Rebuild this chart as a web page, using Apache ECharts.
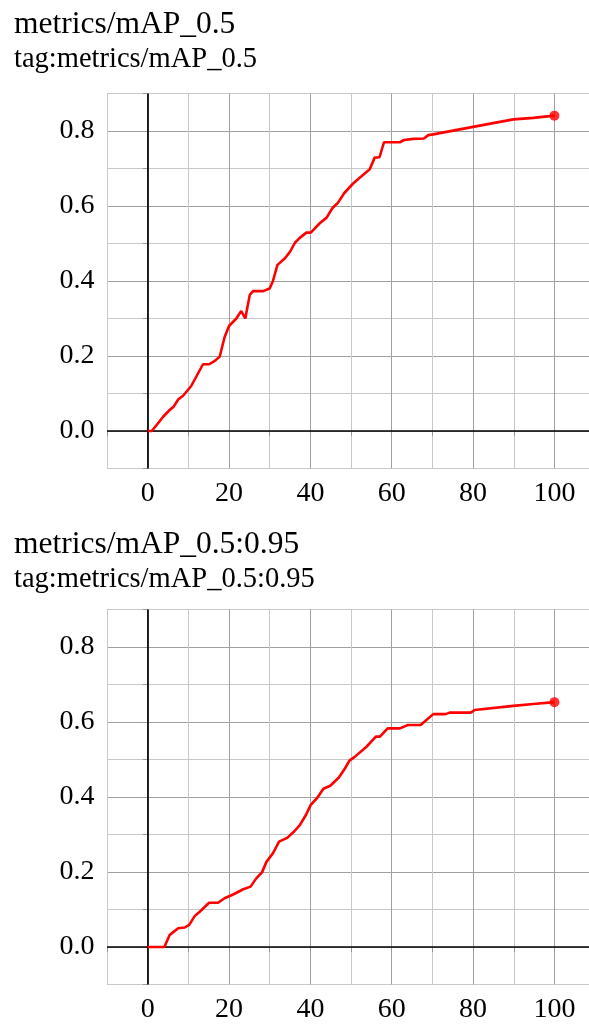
<!DOCTYPE html>
<html>
<head>
<meta charset="utf-8">
<script src="https://cdn.jsdelivr.net/npm/echarts@6/dist/echarts.min.js"></script>
<style>
html,body{margin:0;padding:0;background:#fff;}
#chart{width:589px;height:1025px;}
</style>
</head>
<body>
<div id="chart"></div>
<script>
// ---- data ----
const titles = ['metrics/mAP_0.5', 'metrics/mAP_0.5:0.95'];
const subtitles = ['tag:metrics/mAP_0.5', 'tag:metrics/mAP_0.5:0.95'];

const map50Epochs = [0,1,2.5,3.8,5.4,6.4,7.5,8.7,10.7,12.4,13.6,15.1,16.5,17.7,18.9,20,21.8,23,24,25.1,25.9,28.4,30,30.8,31.9,33.7,35,36.2,37.4,39,40.1,42.3,44,45.4,46.8,48.3,50.5,52.2,54.6,55.8,57,58.1,62,63,65.3,67.9,69,70.2,80,89.9,94.8,100];
const map50Values = [0,0,0.02,0.038,0.056,0.065,0.084,0.094,0.12,0.154,0.178,0.178,0.187,0.198,0.25,0.28,0.30,0.32,0.30,0.363,0.373,0.373,0.38,0.40,0.443,0.46,0.478,0.502,0.515,0.529,0.529,0.554,0.569,0.594,0.609,0.634,0.66,0.676,0.698,0.729,0.73,0.77,0.77,0.776,0.779,0.78,0.789,0.791,0.811,0.831,0.835,0.841];

const map5095Epochs = [0,4.1,5.4,6.2,7.5,9.1,10.2,11.6,12.8,15.1,17.3,18.9,21,23.5,25.3,26.7,28.1,29.2,30.8,32.3,34.3,36,37.4,38.9,40.1,41.7,43.2,44.9,47,48.5,49.6,50.9,53.8,56.1,57.1,59,62,64,67.1,70.2,73.2,74.3,79.4,80.4,89.9,94.8,100];
const map5095Values = [0,0,0.032,0.039,0.05,0.052,0.059,0.083,0.094,0.118,0.118,0.13,0.14,0.154,0.161,0.183,0.199,0.227,0.25,0.281,0.291,0.308,0.325,0.352,0.379,0.398,0.422,0.43,0.452,0.476,0.497,0.507,0.534,0.561,0.561,0.583,0.583,0.592,0.592,0.621,0.621,0.625,0.625,0.632,0.643,0.648,0.653];

const xTickLabels = [0,20,40,60,80,100];
const yTickLabels = [0.0,0.2,0.4,0.6,0.8];

// ---- layout ----
const FONT = 'Liberation Serif';
const gridTops = [93.5, 609.5];
const titleTops = [9, 529];
const subTops = [45.5, 565.5];
const GRID_H = 375;

function pairs(xs, ys){ return xs.map((x,i)=>[x, ys[i]]); }
const seriesData = [pairs(map50Epochs, map50Values), pairs(map5095Epochs, map5095Values)];

const title = [];
const grid = [], xAxis = [], yAxis = [], series = [];
for (let k = 0; k < 2; k++) {
  title.push({text: titles[k], left: 14, top: titleTops[k], padding: 0,
    textStyle: {fontFamily: FONT, fontSize: 31.5, fontWeight: 'normal', color: '#000'}});
  title.push({text: subtitles[k], left: 14, top: subTops[k], padding: 0,
    textStyle: {fontFamily: FONT, fontSize: 28.5, fontWeight: 'normal', color: '#000'}});
  grid.push({left: 107, right: 0, top: gridTops[k], height: GRID_H, containLabel: false});
  xAxis.push({type: 'value', gridIndex: k, min: -10, max: 108.5, interval: 10,
    axisLine: {show: false},
    axisTick: {show: true, length: 5, lineStyle: {color: '#999'}},
    axisLabel: {margin: 11, fontFamily: FONT, fontSize: 28, color: '#000', showMaxLabel: false,
      formatter: v => xTickLabels.includes(Math.round(v)) && Math.abs(v - Math.round(v)) < 1e-6 ? String(Math.round(v)) : ''},
    splitLine: {show: true, lineStyle: {color: ['#c8c8c8', '#a0a0a0'], width: 1}}
  });
  yAxis.push({type: 'value', gridIndex: k, min: -0.1, max: 0.9, interval: 0.1,
    axisLine: {show: false},
    axisTick: {show: true, length: 5, lineStyle: {color: '#999'}},
    axisLabel: {margin: 12.5, fontFamily: FONT, fontSize: 28, color: '#000',
      formatter: v => { const r = Math.round(v*10)/10; return yTickLabels.some(t => Math.abs(t - r) < 1e-6) ? r.toFixed(1) : ''; }},
    splitLine: {show: true, lineStyle: {color: ['#c8c8c8', '#a0a0a0'], width: 1}}
  });
  const d = seriesData[k];
  series.push({type: 'line', xAxisIndex: k, yAxisIndex: k, data: d, showSymbol: false, symbol: 'none',
    lineStyle: {color: '#ff0000', width: 2.6}, z: 5,
    markLine: {silent: true, symbol: ['none','none'], label: {show: false},
      lineStyle: {color: '#000', width: 1.7, type: 'solid'},
      data: [{xAxis: 0}, {yAxis: 0}], z: 3}
  });
  series.push({type: 'scatter', xAxisIndex: k, yAxisIndex: k, data: [d[d.length-1]],
    symbol: 'circle', symbolSize: 10, itemStyle: {color: '#ff0000'}, z: 6});
}

const chart = echarts.init(document.getElementById('chart'), null, {renderer: 'canvas'});
chart.setOption({animation: false, backgroundColor: '#fff', title, grid, xAxis, yAxis, series});
</script>
</body>
</html>
